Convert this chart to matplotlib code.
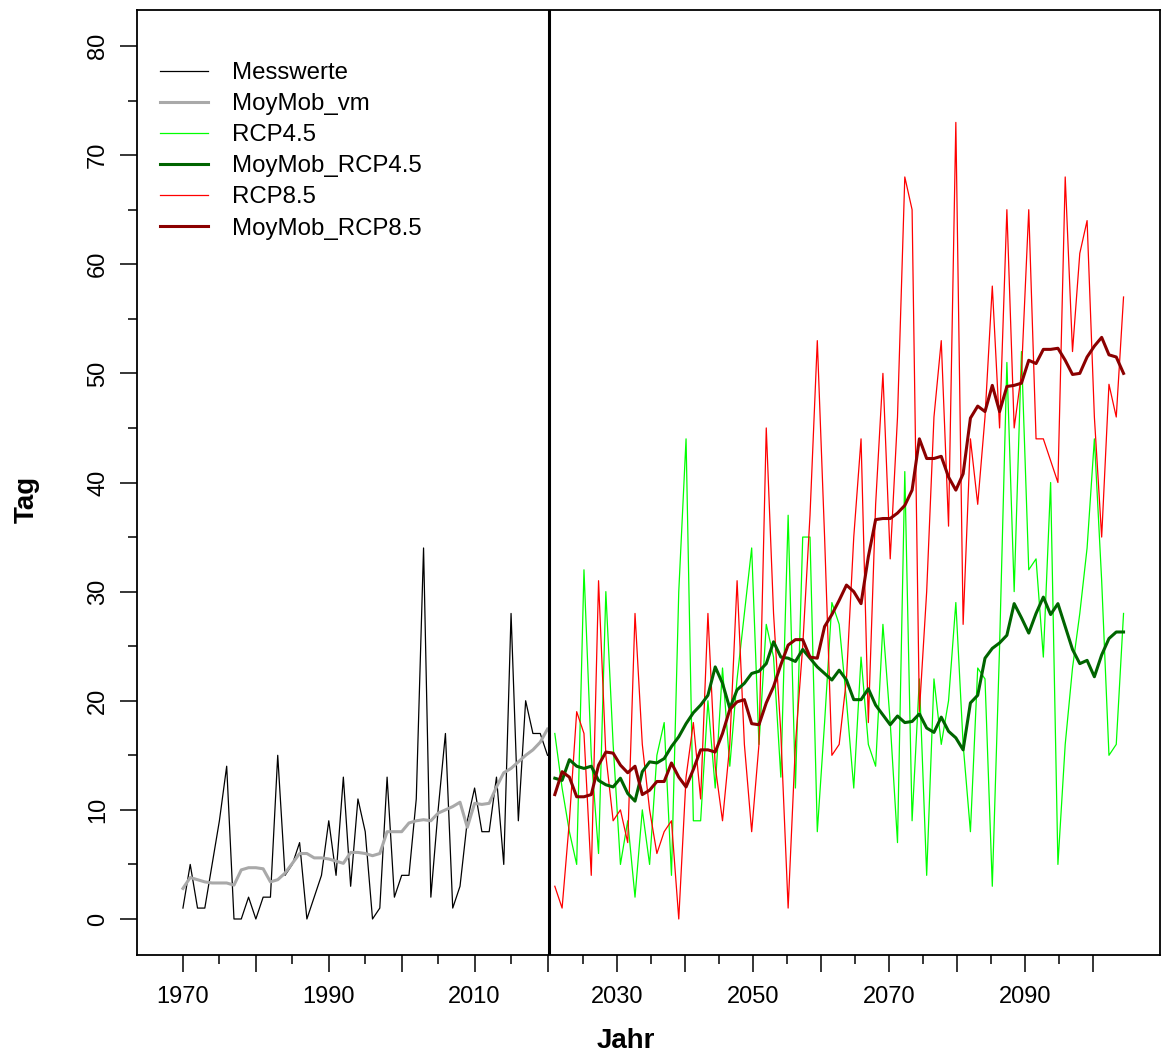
import numpy as np
import matplotlib
matplotlib.use("Agg")
import matplotlib.pyplot as plt

plt.rcParams['font.family'] = ['Liberation Sans', 'DejaVu Sans']

# observed values 1970-2020
years_obs = list(range(1970, 2021))
messwerte = [1, 5, 1, 1, 5, 9, 14, 0, 0, 2, 0, 2, 2, 15, 4, 5, 7, 0, 2, 4,
             9, 4, 13, 3, 11, 8, 0, 1, 13, 2, 4, 4, 11, 34, 2, 10, 17, 1, 3, 9,
             12, 8, 8, 13, 5, 28, 9, 20, 17, 17, 15]
moymob_vm = [2.8, 3.8, 3.6, 3.4, 3.3, 3.3, 3.3, 3.1, 4.5, 4.7, 4.7, 4.6, 3.4, 3.6, 4.2,
             5.1, 6.0, 6.0, 5.6, 5.6, 5.5, 5.3, 5.1, 6.1, 6.1, 6.0, 5.8, 6.0, 8.0, 8.0,
             8.0, 8.8, 9.0, 9.1, 9.0, 9.7, 10.0, 10.3, 10.7, 8.4, 10.6, 10.5, 10.6, 12.1,
             13.4, 13.8, 14.4, 15.0, 15.5, 16.2, 17.4]

# scenarios 2021-2099
years_rcp = list(range(2021, 2100))
rcp45 = [17, 12, 8, 5, 32, 15, 6, 30, 16, 5, 9, 2, 10, 5, 15, 18, 4, 30, 44, 9,
         9, 20, 12, 23, 14, 22, 28, 34, 16, 27, 24, 13, 37, 12, 35, 35, 8, 18, 29, 27,
         20, 12, 24, 16, 14, 27, 18, 7, 41, 9, 22, 4, 22, 16, 20, 29, 16, 8, 23, 22,
         3, 25, 51, 30, 52, 32, 33, 24, 40, 5, 16, 23, 28, 34, 44, 31, 15, 16, 28]
moymob_rcp45 = [12.9, 12.7, 14.6, 14.0, 13.8, 14.0, 12.7, 12.3, 12.1, 12.9, 11.5, 10.8,
                13.5, 14.4, 14.3, 14.7, 15.8, 16.7, 17.9, 18.9, 19.6, 20.5, 23.1, 21.6,
                19.3, 21.0, 21.6, 22.5, 22.7, 23.4, 25.4, 24.0, 23.9, 23.6, 24.7, 23.9,
                23.1, 22.5, 21.9, 22.8, 21.9, 20.1, 20.1, 21.1, 19.6, 18.7, 17.8, 18.6,
                18.0, 18.1, 18.8, 17.5, 17.1, 18.5, 17.2, 16.6, 15.5, 19.8, 20.5, 23.9,
                24.8, 25.3, 26.0, 28.9, 27.6, 26.2, 28.0, 29.5, 27.9, 28.9, 26.8, 24.7,
                23.4, 23.7, 22.2, 24.2, 25.7, 26.3, 26.3]
rcp85 = [3, 1, 9, 19, 17, 4, 31, 15, 9, 10, 7, 28, 16, 10, 6, 8, 9, 0, 13, 18,
         11, 28, 14, 9, 16, 31, 16, 8, 16, 45, 28, 17, 1, 16, 25, 37, 53, 35, 15, 16,
         22, 35, 44, 18, 38, 50, 33, 46, 68, 65, 19, 30, 46, 53, 36, 73, 27, 44, 38, 46,
         58, 45, 65, 45, 50, 65, 44, 44, 42, 40, 68, 52, 61, 64, 46, 35, 49, 46, 57]
moymob_rcp85 = [11.4, 13.5, 13.0, 11.2, 11.2, 11.4, 14.1, 15.3, 15.2, 14.1, 13.4, 14.0,
                11.4, 11.8, 12.6, 12.6, 14.3, 13.0, 12.1, 13.7, 15.5, 15.5, 15.3, 17.0,
                19.2, 19.9, 20.1, 17.9, 17.8, 19.8, 21.3, 23.3, 25.1, 25.6, 25.6, 24.0,
                23.9, 26.8, 27.9, 29.2, 30.6, 30.0, 28.9, 33.2, 36.6, 36.7, 36.7, 37.2,
                37.9, 39.3, 44.0, 42.2, 42.2, 42.4, 40.5, 39.3, 40.8, 45.9, 47.0, 46.5,
                48.9, 46.5, 48.8, 48.9, 49.1, 51.2, 50.9, 52.2, 52.2, 52.3, 51.2, 49.9,
                50.0, 51.5, 52.5, 53.3, 51.7, 51.5, 50.0]

labels_left = [1970, 1990, 2010]
labels_right = [2030, 2050, 2070, 2090]


def right_axis_pos(y):
    # the tick marks after 2020 come from a second, slightly compressed axis
    return 2020.2 + (np.asarray(y, dtype=float) - 2020) * 0.932


fig = plt.figure(figsize=(11.61, 10.55), dpi=100)
ax = fig.add_axes([137 / 1161, 1 - 955 / 1055, 1023 / 1161, 945 / 1055])

ax.plot(years_obs, messwerte, color='black', lw=0.9, label='Messwerte')
ax.plot(years_obs, moymob_vm, color='darkgrey', lw=2.2, label='MoyMob_vm')
ax.plot(years_rcp, rcp45, color='#00FF00', lw=0.9, label='RCP4.5')
ax.plot(years_rcp, rcp85, color='#FF0000', lw=0.9, label='RCP8.5')
ax.plot(years_rcp, moymob_rcp45, color='darkgreen', lw=2.2, label='MoyMob_RCP4.5')
ax.plot(years_rcp, moymob_rcp85, color='darkred', lw=2.2, label='MoyMob_RCP8.5')
ax.axvline(2020.2, color='black', lw=2.2)

ax.set_xlim(1963.7, 2104.0)
ax.set_ylim(-3.3, 83.3)

# x ticks
maj_left = list(range(1970, 2021, 10))
min_left = list(range(1975, 2020, 10))
maj_right = right_axis_pos(range(2030, 2101, 10))
min_right = right_axis_pos(range(2025, 2100, 10))
ax.set_xticks(maj_left + list(maj_right))
ax.set_xticklabels([str(v) if v in labels_left else '' for v in maj_left] +
                   [str(v) if v in labels_right else '' for v in range(2030, 2101, 10)])
ax.set_xticks(min_left + list(min_right), minor=True)

ax.set_yticks(range(0, 81, 10))
ax.set_yticks(range(5, 80, 10), minor=True)
for lab in ax.get_yticklabels():
    lab.set_rotation(90)
    lab.set_va('center')

ax.tick_params(which='major', length=12, width=1.1, labelsize=17, pad=10)
ax.tick_params(which='minor', length=6.5, width=1.1)
ax.tick_params(axis='y', pad=8)
for s in ax.spines.values():
    s.set_linewidth(1.3)

ax.set_xlabel('Jahr', fontsize=20, fontweight='bold')
ax.set_ylabel('Tag', fontsize=20, fontweight='bold')
ax.xaxis.set_label_coords(0.478, -0.077)
ax.yaxis.set_label_coords(-0.095, 0.4825)

handles, labels = ax.get_legend_handles_labels()
order = ['Messwerte', 'MoyMob_vm', 'RCP4.5', 'MoyMob_RCP4.5', 'RCP8.5', 'MoyMob_RCP8.5']
hmap = dict(zip(labels, handles))
ax.legend([hmap[k] for k in order], order, loc='upper left', bbox_to_anchor=(0.0225, 0.945),
          frameon=False, fontsize=17.3, handlelength=2.0, handletextpad=1.0,
          labelspacing=0.38, borderaxespad=0, borderpad=0)

plt.savefig('out.png', dpi=100)
